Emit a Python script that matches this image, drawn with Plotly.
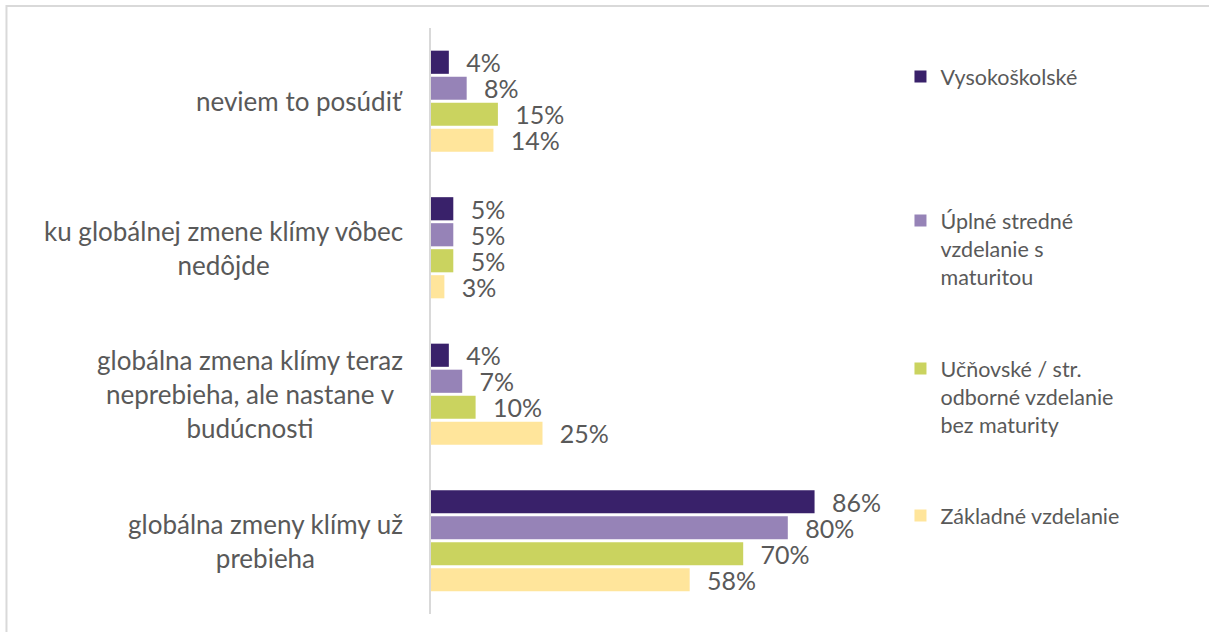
import plotly.graph_objects as go

# categories, top to bottom as shown
categories = [
    "neviem to posúdiť",
    "ku globálnej zmene klímy vôbec<br>nedôjde",
    "globálna zmena klímy teraz<br>neprebieha, ale nastane v<br>budúcnosti",
    "globálna zmeny klímy už<br>prebieha",
]
series_names = [
    "Vysokoškolské",
    "Úplné stredné<br>vzdelanie s<br>maturitou",
    "Učňovské / str.<br>odborné vzdelanie<br>bez maturity",
    "Základné vzdelanie",
]
vysokoskolske = [4, 5, 4, 86]
uplne_stredne = [8, 5, 7, 80]
ucnovske = [15, 5, 10, 70]
zakladne = [14, 3, 25, 58]
series_values = [vysokoskolske, uplne_stredne, ucnovske, zakladne]
colors = ["#39216A", "#9683B7", "#CAD35F", "#FFE59B"]

W, H = 1209, 632
L, R, T, B = 431, W - 877.5, 28, 18
pw, ph = W - L - R, H - T - B
GRAY = "#595959"
FONT = "Lato"

# legend first-line centres (px from top)
legend_y = [78, 222, 370, 517]


def px_x(px):
    return (px - L) / pw


def px_y(py):
    return 1 - (py - T) / ph


fig = go.Figure()
for i, (name, vals, col) in enumerate(zip(series_names, series_values, colors)):
    lg = "legend" if i == 0 else f"legend{i + 1}"
    fig.add_trace(go.Bar(
        y=categories, x=vals, name=name, orientation="h",
        marker=dict(color=col, line=dict(width=0)),
        text=vals, texttemplate="\u00a0\u00a0\u200a%{x}%", textposition="outside",
        textfont=dict(family=FONT, size=25, color=GRAY),
        constraintext="none", cliponaxis=False, legend=lg, showlegend=True,
    ))

fig.update_layout(
    width=W, height=H, template="plotly_white", showlegend=True,
    plot_bgcolor="white", paper_bgcolor="white",
    barmode="group", bargap=0.29, bargroupgap=0.11,
    margin=dict(l=L, r=R, t=T, b=B, autoexpand=False),
    font=dict(family=FONT, size=24, color=GRAY),
)

for i in range(4):
    key = "legend" if i == 0 else f"legend{i + 1}"
    fig.update_layout({key: dict(
        x=px_x(901), xanchor="left",
        y=1 - (legend_y[i] - 22) / H, yref="container", yanchor="top",
        valign="top", bgcolor="rgba(0,0,0,0)", visible=True,
        font=dict(family=FONT, size=21.5, color=GRAY),
    )})

fig.update_xaxes(range=[0, 100], showgrid=False, showticklabels=False,
                 zeroline=False, showline=False)
fig.update_yaxes(autorange="reversed", showgrid=False, showticklabels=False,
                 showline=True, linecolor="#D9D9D9", linewidth=2)

# category labels, right aligned block with centred lines
for c in categories:
    fig.add_annotation(x=0, xref="paper", xanchor="right", xshift=-26,
                       y=c, yref="y", text=c, showarrow=False, align="center",
                       font=dict(family=FONT, size=26, color=GRAY))

# chart border (top and left visible)
fig.add_shape(type="rect", xref="paper", yref="paper",
              x0=px_x(6), x1=px_x(W + 10), y0=px_y(H + 10), y1=px_y(6),
              line=dict(color="#D9D9D9", width=2), layer="below")

# page has a default body margin; remove it so the chart sits at the origin
fig.write_html("out.html", config={"displayModeBar": False},
               post_script="document.body.style.margin='0';window.dispatchEvent(new Event('resize'));")
